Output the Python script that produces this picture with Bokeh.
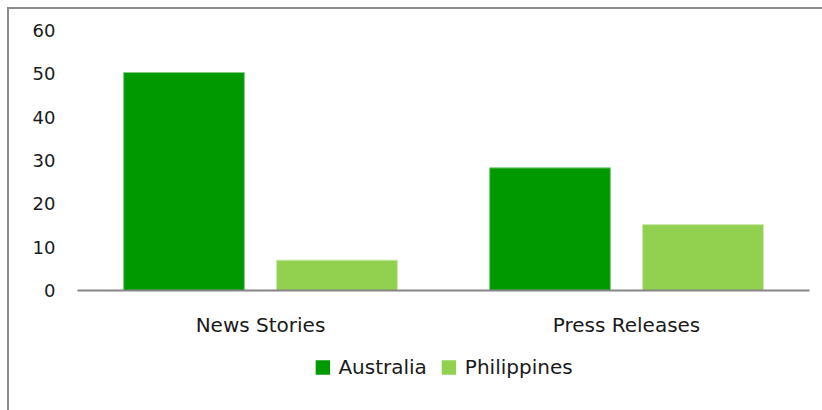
from bokeh.plotting import figure
from bokeh.layouts import column
from bokeh.models import FactorRange, Range1d, Legend, LegendItem, ColumnDataSource, FixedTicker
from bokeh.transform import dodge
from bokeh.embed import file_html
from bokeh.resources import INLINE

categories = ["News Stories", "Press Releases"]
series = ["Australia", "Philippines"]
australia = [50.3, 28.3]
philippines = [7.0, 15.2]
y_ticks = [0, 10, 20, 30, 40, 50, 60]
colors = ["#009900", "#92d050"]
edges = ["#7fcc7f", "#c8e8a7"]

FONT = "DejaVu Sans"
TEXT = "#1a1a1a"
FS = "20px"

src = ColumnDataSource(dict(cat=categories, aus=australia, phl=philippines))

p = figure(x_range=FactorRange(factors=categories), y_range=Range1d(0, 60),
           frame_width=732, frame_height=260, output_backend="svg", toolbar_location=None,
           min_border_left=68, min_border_right=13, min_border_top=21, min_border_bottom=0)

p.vbar(x=dodge("cat", -0.209, range=p.x_range), top="aus", width=0.33, source=src,
       fill_color=colors[0], line_color=edges[0], line_width=1)
p.vbar(x=dodge("cat", 0.209, range=p.x_range), top="phl", width=0.33, source=src,
       fill_color=colors[1], line_color=edges[1], line_width=1)

p.grid.visible = False
p.outline_line_color = None

p.yaxis.ticker = FixedTicker(ticks=y_ticks)
p.yaxis.axis_line_color = None
p.yaxis.major_tick_line_color = None
p.yaxis.minor_tick_line_color = None
p.yaxis.major_tick_out = 0
p.yaxis.major_label_standoff = 22
p.yaxis.major_label_text_font = FONT
p.yaxis.major_label_text_font_size = "18px"
p.yaxis.major_label_text_color = TEXT

p.xaxis.axis_line_color = "#868686"
p.xaxis.axis_line_width = 2
p.xaxis.major_tick_line_color = None
p.xaxis.minor_tick_line_color = None
p.xaxis.major_tick_out = 0
p.xaxis.major_label_standoff = 22
p.xaxis.major_label_text_font = FONT
p.xaxis.major_label_text_font_size = FS
p.xaxis.major_label_text_color = TEXT

# legend strip below the chart (zero-height helper bars only feed the legend)
p2 = figure(x_range=FactorRange(factors=categories), y_range=Range1d(0, 1),
            frame_width=732, frame_height=72, output_backend="svg", toolbar_location=None,
            min_border_left=68, min_border_right=13, min_border_top=0, min_border_bottom=0,
            x_axis_type=None, y_axis_type=None)
p2.grid.visible = False
p2.outline_line_color = None
items = []
for name, c in zip(series, colors):
    r = p2.vbar(x="cat", top=0, bottom=0, width=0.33, source=src, fill_color=c, line_color=None)
    items.append(LegendItem(label=name, renderers=[r]))
legend = Legend(items=items, orientation="horizontal", location="top_center",
                label_text_font=FONT, label_text_font_size=FS, label_text_color=TEXT,
                glyph_width=18, glyph_height=18, label_standoff=7, spacing=13,
                border_line_color=None, background_fill_alpha=0, padding=0, margin=16)
p2.add_layout(legend)

layout = column(p, p2, spacing=0)
layout.styles = {"border-top": "2px solid #8c8c8c", "border-left": "2px solid #8c8c8c",
                 "margin-left": "7px", "margin-top": "7px"}

open("out.html", "w").write(file_html(layout, INLINE))
